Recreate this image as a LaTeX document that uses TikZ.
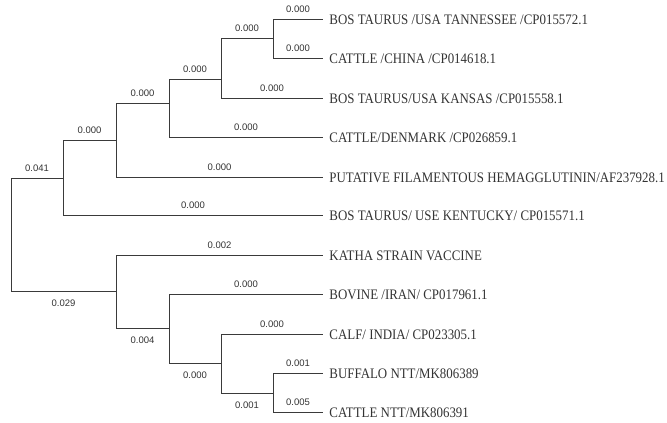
\documentclass[tikz,border=0pt]{standalone}
\usepackage{fontspec}
\usepackage{tikz}
\newfontfamily\leaffont[FakeStretch=0.89]{Liberation Serif}
\newfontfamily\lenfont{Liberation Sans}
\definecolor{treeLine}{HTML}{3A3A3A}
\definecolor{treeText}{HTML}{333333}

\begin{document}
\begin{tikzpicture}[x=1pt, y=-1pt, line width=0.9pt, draw=treeLine,
    leaf/.style={anchor=west, inner xsep=6pt, inner ysep=0pt, text height=10pt, text depth=0pt,
        font=\leaffont\fontsize{14.5}{16}\selectfont, text=treeText},
    lenup/.style={above=5.5pt, inner sep=0pt, font=\lenfont\fontsize{9.5}{11}\selectfont, text=treeText},
    lendown/.style={below=8pt, inner sep=0pt, font=\lenfont\fontsize{9.5}{11}\selectfont, text=treeText}]
    \useasboundingbox (0,0) rectangle (667,423);
    % inner nodes
    \coordinate (root) at (11,234);
    \coordinate (nE) at (63,178);
    \coordinate (nD) at (116,140);
    \coordinate (nC) at (169,103);
    \coordinate (nB) at (221,79);
    \coordinate (nA) at (273,38);
    \coordinate (nF) at (116,291);
    \coordinate (nG) at (169,328);
    \coordinate (nH) at (221,363);
    \coordinate (nI) at (273,393);
    % leaves
    \node[leaf] (tenn) at (323,19) {BOS TAURUS /USA TANNESSEE /CP015572.1};
    \node[leaf] (china) at (323,58) {CATTLE /CHINA /CP014618.1};
    \node[leaf] (kansas) at (323,98) {BOS TAURUS/USA KANSAS /CP015558.1};
    \node[leaf] (denmark) at (323,137) {CATTLE/DENMARK /CP026859.1};
    \node[leaf] (putative) at (323,177) {PUTATIVE FILAMENTOUS HEMAGGLUTININ/AF237928.1};
    \node[leaf] (kentucky) at (323,215) {BOS TAURUS/ USE KENTUCKY/ CP015571.1};
    \node[leaf] (katha) at (323,255) {KATHA STRAIN VACCINE};
    \node[leaf] (iran) at (323,294) {BOVINE /IRAN/ CP017961.1};
    \node[leaf] (india) at (323,334) {CALF/ INDIA/ CP023305.1};
    \node[leaf] (buffalo) at (323,373) {BUFFALO NTT/MK806389};
    \node[leaf] (cattlentt) at (323,412) {CATTLE NTT/MK806391};
    % branches
    \draw (root) |- node[pos=0.75, lenup] (lE) {0.041} (nE);
    \draw (root) |- node[pos=0.75, lendown] (lF) {0.029} (nF);
    \draw (nE) |- node[pos=0.75, lenup] (lD) {0.000} (nD);
    \draw (nE) |- node[pos=0.75, lenup] (lKe) {0.000} (kentucky.west);
    \draw (nD) |- node[pos=0.75, lenup] (lC) {0.000} (nC);
    \draw (nD) |- node[pos=0.75, lenup] (lPu) {0.000} (putative.west);
    \draw (nC) |- node[pos=0.75, lenup] (lB) {0.000} (nB);
    \draw (nC) |- node[pos=0.75, lenup] (lDe) {0.000} (denmark.west);
    \draw (nB) |- node[pos=0.75, lenup] (lA) {0.000} (nA);
    \draw (nB) |- node[pos=0.75, lenup] (lKa) {0.000} (kansas.west);
    \draw (nA) |- node[pos=0.75, lenup] (lTe) {0.000} (tenn.west);
    \draw (nA) |- node[pos=0.75, lenup] (lCh) {0.000} (china.west);
    \draw (nF) |- node[pos=0.75, lenup] (lKt) {0.002} (katha.west);
    \draw (nF) |- node[pos=0.75, lendown] (lG) {0.004} (nG);
    \draw (nG) |- node[pos=0.75, lenup] (lIr) {0.000} (iran.west);
    \draw (nG) |- node[pos=0.75, lendown] (lH) {0.000} (nH);
    \draw (nH) |- node[pos=0.75, lenup] (lIn) {0.000} (india.west);
    \draw (nH) |- node[pos=0.75, lendown] (lI) {0.001} (nI);
    \draw (nI) |- node[pos=0.75, lenup] (lBu) {0.001} (buffalo.west);
    \draw (nI) |- node[pos=0.75, lenup] (lCn) {0.005} (cattlentt.west);
\end{tikzpicture}
\end{document}
